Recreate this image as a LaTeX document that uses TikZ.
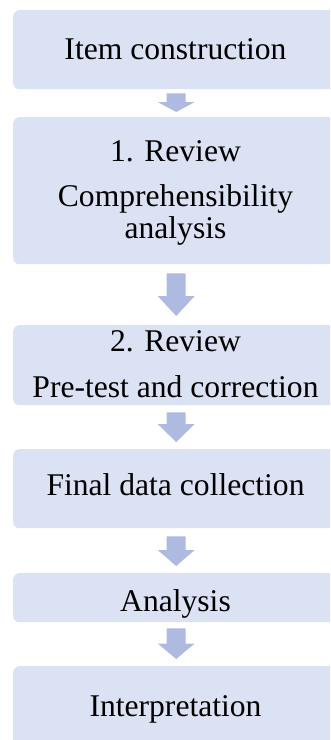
\documentclass[tikz,border=0pt]{standalone}
\usepackage{fontspec}
\setmainfont{Liberation Serif}
\usetikzlibrary{calc}
\definecolor{boxfill}{HTML}{DAE2F3}
\definecolor{arrowfill}{HTML}{AEBAE0}
\tikzset{
  stagebox/.style={fill=boxfill, rounded corners=6pt, inner sep=0pt,
    minimum width=326pt, anchor=north west},
  stagetext/.style={anchor=base, inner sep=0pt,
    font=\fontsize{31.6}{31.7}\selectfont},
}
% Block arrow between two stages: #1 from, #2 to, #3 gap below #1,
% #4 gap above #2, #5 head length
\newcommand\flowarrow[5]{%
  \fill[arrowfill] let \p1=(#1.south), \p2=(#2.north) in
    (\x1-9.5pt,\y1-#3pt) -- (\x1+9.5pt,\y1-#3pt)
    -- (\x1+9.5pt,\y2+#4pt+#5pt) -- (\x1+18.5pt,\y2+#4pt+#5pt)
    -- (\x1,\y2+#4pt)
    -- (\x1-18.5pt,\y2+#4pt+#5pt) -- (\x1-9.5pt,\y2+#4pt+#5pt) -- cycle;
}
\begin{document}
\begin{tikzpicture}[x=1pt,y=-1pt]
  \useasboundingbox (0,0) rectangle (330,740);
  \clip (0,0) rectangle (330,740);

  % stage boxes
  \node[stagebox, minimum height=79pt]  (b1) at (13,10)  {};
  \node[stagebox, minimum height=147pt] (b2) at (13,117) {};
  \node[stagebox, minimum height=80pt]  (b3) at (13,325) {};
  \node[stagebox, minimum height=79pt]  (b4) at (13,449) {};
  \node[stagebox, minimum height=49pt]  (b5) at (13,573) {};
  \node[stagebox, minimum height=90pt]  (b6) at (13,666) {};

  % stage labels
  \node[stagetext] (t1)  at (175.5,59.3)  {Item construction};
  \node[stagetext] (t2a) at (175.5,161.7) {1. Review};
  \node[stagetext] (t2b) at (175.5,206.7) {Comprehensibility};
  \node[stagetext] (t2c) at (175.5,238.2) {analysis};
  \node[stagetext] (t3a) at (175.5,351.7) {2. Review};
  \node[stagetext] (t3b) at (175.5,397)   {Pre-test and correction};
  \node[stagetext] (t4)  at (175.5,495)   {Final data collection};
  \node[stagetext] (t5)  at (175.5,611.7) {Analysis};
  \node[stagetext] (t6)  at (175.5,716)   {Interpretation};

  % arrows between stages
  \flowarrow{b1}{b2}{4}{5}{10}
  \flowarrow{b2}{b3}{9}{9}{20}
  \flowarrow{b3}{b4}{7}{7}{18}
  \flowarrow{b4}{b5}{8}{7}{16}
  \flowarrow{b5}{b6}{6}{7}{15.5}
\end{tikzpicture}
\end{document}
